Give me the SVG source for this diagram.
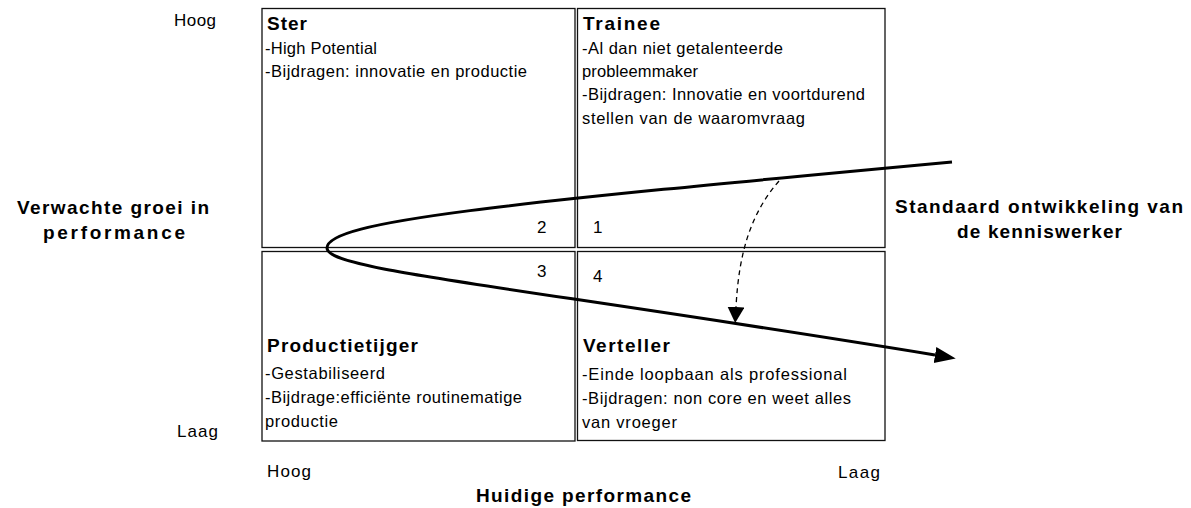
<svg xmlns="http://www.w3.org/2000/svg" width="1191" height="508" viewBox="0 0 1191 508">
  <style>
    text { font-family: "Liberation Sans", Arial, sans-serif; fill: #000; }
    .t { font-size: 16.5px; }
    .title { font-size: 19px; font-weight: bold; }
    .num { font-size: 17px; }
    .ax { font-size: 17px; }
    .lbl { font-size: 19px; font-weight: bold; }
    .box { fill: none; stroke: #111; stroke-width: 1.3; }
    .curve { fill: none; stroke: #000; stroke-width: 3; }
    .dash { fill: none; stroke: #000; stroke-width: 1.3; stroke-dasharray: 5 4; }
  </style>
  <defs>
    <marker id="head-solid" markerUnits="userSpaceOnUse" markerWidth="22" markerHeight="18" refX="0" refY="8" orient="auto">
      <path d="M0,0 L21,8 L0,16 z" fill="#000"/>
    </marker>
    <marker id="head-dash" markerUnits="userSpaceOnUse" markerWidth="18" markerHeight="18" refX="0" refY="8.5" orient="auto">
      <path d="M0,0 L16,8.5 L0,17 z" fill="#000"/>
    </marker>
  </defs>

  <rect width="1191" height="508" fill="#fff"/>

  <!-- axis labels -->
  <g id="axis-labels">
    <text class="ax" x="174" y="26" textLength="42">Hoog</text>
    <text class="ax" x="177" y="437" textLength="41">Laag</text>
    <text class="ax" x="267" y="477" textLength="44">Hoog</text>
    <text class="ax" x="838" y="478" textLength="42">Laag</text>
    <text class="lbl" x="17" y="214" textLength="192">Verwachte groei in</text>
    <text class="lbl" x="43" y="239" textLength="142">performance</text>
    <text class="lbl" x="895" y="213" textLength="288">Standaard ontwikkeling van</text>
    <text class="lbl" x="957" y="238" textLength="165">de kenniswerker</text>
    <text class="lbl" x="476" y="502" textLength="215">Huidige performance</text>
  </g>

  <!-- quadrant 2 -->
  <g id="ster">
    <rect class="box" x="262" y="8.5" width="313" height="239"/>
    <text class="title" x="267" y="30" textLength="40">Ster</text>
    <text class="t" x="265" y="54" textLength="112">-High Potential</text>
    <text class="t" x="265" y="77" textLength="262">-Bijdragen: innovatie en productie</text>
    <text class="num" x="537" y="233">2</text>
  </g>

  <!-- quadrant 1 -->
  <g id="trainee">
    <rect class="box" x="577.5" y="8.5" width="307.5" height="239"/>
    <text class="title" x="583" y="30" textLength="77">Trainee</text>
    <text class="t" x="582" y="54" textLength="201">-Al dan niet getalenteerde</text>
    <text class="t" x="582" y="77" textLength="116">probleemmaker</text>
    <text class="t" x="582" y="100" textLength="283">-Bijdragen: Innovatie en voortdurend</text>
    <text class="t" x="582" y="124" textLength="223">stellen van de waaromvraag</text>
    <text class="num" x="593" y="233">1</text>
  </g>

  <!-- quadrant 3 -->
  <g id="productietijger">
    <rect class="box" x="262" y="251.5" width="313" height="189.5"/>
    <text class="num" x="537" y="277">3</text>
    <text class="title" x="267" y="352" textLength="151">Productietijger</text>
    <text class="t" x="265" y="379" textLength="120">-Gestabiliseerd</text>
    <text class="t" x="265" y="403" textLength="257">-Bijdrage:efficiënte routinematige</text>
    <text class="t" x="265" y="427" textLength="73">productie</text>
  </g>

  <!-- quadrant 4 -->
  <g id="verteller">
    <rect class="box" x="577.5" y="251.5" width="307.5" height="189"/>
    <text class="num" x="593" y="282">4</text>
    <text class="title" x="583" y="352" textLength="87">Verteller</text>
    <text class="t" x="582" y="380" textLength="265">-Einde loopbaan als professional</text>
    <text class="t" x="582" y="404" textLength="269">-Bijdragen: non core en weet alles</text>
    <text class="t" x="582" y="428" textLength="95">van vroeger</text>
  </g>

  <!-- development path and shortcut -->
  <g id="connectors">
    <path class="curve" d="M952,162 C500,204 327,221 327,248 C327,270 500,284 935,355" marker-end="url(#head-solid)"/>
    <path class="dash" d="M779,181 C752,212 739,250 736,307" marker-end="url(#head-dash)"/>
  </g>
</svg>
